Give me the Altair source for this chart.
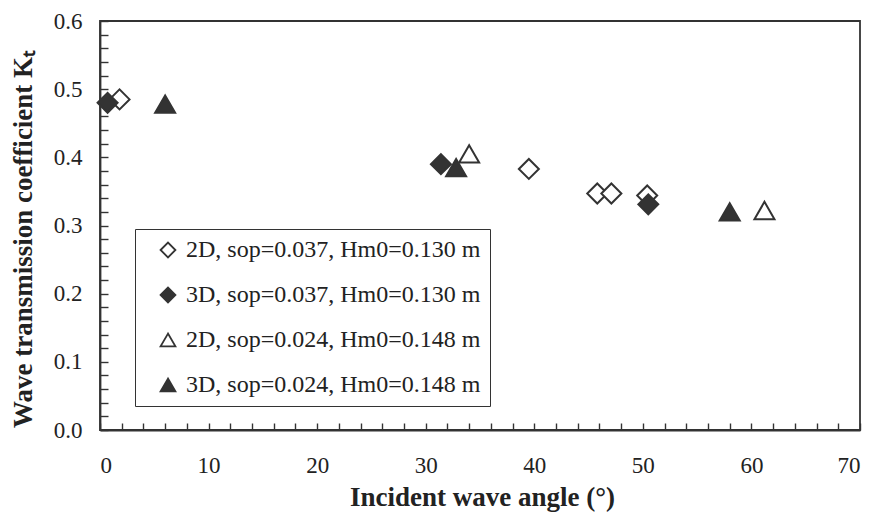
import altair as alt
import pandas as pd

series = [
    "2D, sop=0.037, Hm0=0.130 m",
    "3D, sop=0.037, Hm0=0.130 m",
    "2D, sop=0.024, Hm0=0.148 m",
    "3D, sop=0.024, Hm0=0.148 m",
]
shapes = ["diamond", "diamond", "triangle-up", "triangle-up"]
fills = ["white", "#333333", "white", "#333333"]
strokes = ["#333333", "#333333", "#333333", "#333333"]

s1_x = [1.8, 39.5, 45.8, 47.1, 50.4]
s1_y = [0.485, 0.383, 0.347, 0.347, 0.344]
s2_x = [0.7, 31.4, 50.5]
s2_y = [0.480, 0.390, 0.331]
s3_x = [34.0, 61.2]
s3_y = [0.405, 0.322]
s4_x = [6.0, 32.8, 58.0]
s4_y = [0.478, 0.385, 0.320]

x_labels = [0, 10, 20, 30, 40, 50, 60, 70]
y_labels = [0.0, 0.1, 0.2, 0.3, 0.4, 0.5, 0.6]
x_minor = list(range(0, 71, 2))
y_minor = [round(i * 0.02, 2) for i in range(31)]

rows = []
for name, xs, ys in zip(series, [s1_x, s2_x, s3_x, s4_x], [s1_y, s2_y, s3_y, s4_y]):
    for a, k in zip(xs, ys):
        rows.append({"angle": a, "kt": k, "series": name})
df = pd.DataFrame(rows)

FONT = "Liberation Serif"
INK = "#333333"
TXT = "#222222"

xscale = alt.Scale(domain=[0, 70], nice=False, zero=False)
yscale = alt.Scale(domain=[0, 0.6], nice=False, zero=False)

legend_kw = dict(
    title=None, orient="none", legendX=35, legendY=208,
    strokeColor=INK, fillColor="white", padding=9, rowPadding=21,
    labelFont=FONT, labelFontSize=24, labelColor=TXT, labelLimit=500,
    symbolSize=220, symbolStrokeWidth=1.8, symbolStrokeColor=INK,
    symbolOffset=12, labelOffset=6,
)

points = alt.Chart(df).mark_point(
    size=400, stroke=INK, strokeWidth=2, opacity=1
).encode(
    x=alt.X("angle:Q", scale=xscale, axis=alt.Axis(
        orient="bottom", values=x_labels, ticks=False, grid=False,
        domainColor=INK, domainWidth=1.8,
        labelFont=FONT, labelFontSize=23, labelColor=TXT, labelPadding=24,
        title="Incident wave angle (°)", titleFont=FONT, titleFontSize=27,
        titleFontWeight="bold", titleColor=TXT, titleX=382, titleY=67,
        titleAlign="center", titleBaseline="middle")),
    y=alt.Y("kt:Q", scale=yscale, axis=alt.Axis(
        orient="left", values=y_labels, format=".1f", ticks=False, grid=False,
        domainColor=INK, domainWidth=1.8,
        labelFont=FONT, labelFontSize=23, labelColor=TXT, labelPadding=18,
        title="Wave transmission coefficient Kₜ", titleFont=FONT, titleFontSize=27,
        titleFontWeight="bold", titleColor=TXT, titleX=-77, titleY=218,
        titleAlign="center", titleBaseline="middle")),
    shape=alt.Shape("series:N", scale=alt.Scale(domain=series, range=shapes),
                    legend=alt.Legend(**legend_kw)),
    fill=alt.Fill("series:N", scale=alt.Scale(domain=series, range=fills),
                  legend=alt.Legend(**legend_kw)),
    stroke=alt.Stroke("series:N", scale=alt.Scale(domain=series, range=strokes),
                      legend=alt.Legend(**legend_kw)),
)

ticks = alt.Chart(df).mark_point(opacity=0).encode(
    x=alt.X("angle:Q", scale=xscale, axis=alt.Axis(
        orient="top", offset=-409, values=x_minor, labels=False, domain=False,
        grid=False, tickSize=7, tickColor=INK, tickWidth=1.4, title=None)),
    y=alt.Y("kt:Q", scale=yscale, axis=alt.Axis(
        orient="right", offset=-760, values=y_minor, labels=False, domain=False,
        grid=False, tickSize=8, tickColor=INK, tickWidth=1.4, title=None)),
)

chart = alt.layer(points, ticks).resolve_axis(x="independent", y="independent").properties(
    width=760, height=409,
    padding={"left": 92, "top": 13, "right": 8, "bottom": 82},
    autosize=alt.AutoSizeParams(type="none"),
    background="white",
).configure_view(stroke=INK, strokeWidth=1.8)

chart.save("out.html", embed_options={"renderer": "svg", "actions": False})
